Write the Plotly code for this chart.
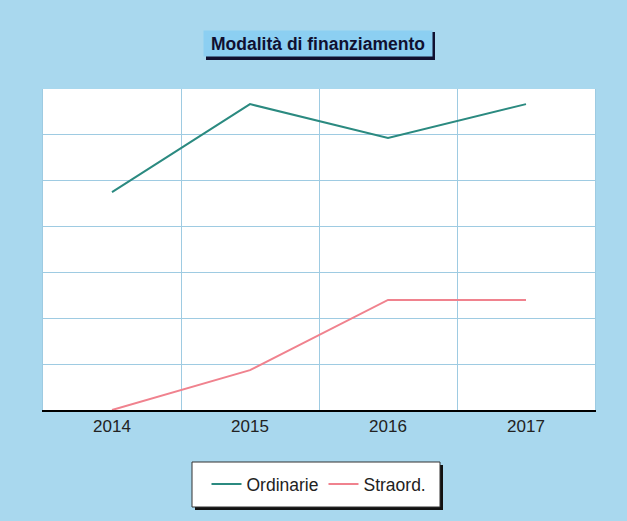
import plotly.graph_objects as go

years = ["2014", "2015", "2016", "2017"]
ordinarie = [4.75, 6.67, 5.93, 6.67]
straord = [0.0, 0.87, 2.40, 2.40]

title_text = "Modalità di finanziamento"
bg = "#a9d8ee"
grid = "#9ecbe2"

fig = go.Figure()
fig.add_trace(go.Scatter(x=years, y=ordinarie, name="Ordinarie", mode="lines",
                         line=dict(color="#2b8a80", width=2)))
fig.add_trace(go.Scatter(x=years, y=straord, name="Straord.", mode="lines",
                         line=dict(color="#f0828e", width=2)))

W, H = 627, 521
L, R, T, B = 43, 32, 89, 111
pw, ph = W - L - R, H - T - B

def px(xp):
    return (xp - L) / pw

def py(yp):
    return (H - B - yp) / ph

fig.update_layout(
    width=W, height=H,
    margin=dict(l=L, r=R, t=T, b=B),
    paper_bgcolor=bg, plot_bgcolor="white",
    font=dict(family="Liberation Sans, Arial, sans-serif", size=17, color="#222"),
    showlegend=True,
    legend=dict(orientation="h", x=0.5, xanchor="center", y=py(484), yanchor="middle",
                bgcolor="rgba(0,0,0,0)", font=dict(size=17.5, color="#222"),
                itemwidth=30),
    xaxis=dict(type="category", tickson="boundaries", showgrid=True, gridcolor=grid,
               gridwidth=1, showline=True, linecolor="black", linewidth=2, ticks="",
               tickfont=dict(size=17, color="#222"), range=[-0.5, 3.5], fixedrange=True),
    yaxis=dict(range=[0, 7], dtick=1, showgrid=True, gridcolor=grid, gridwidth=1,
               showticklabels=False, zeroline=False, showline=True, linecolor=grid,
               mirror=True, ticks="", fixedrange=True),
)

# title box shadow
fig.add_shape(type="rect", xref="paper", yref="paper", x0=px(206), x1=px(435),
              y0=py(32), y1=py(60), fillcolor="#101030", line=dict(width=0), layer="below")
fig.add_annotation(text="<b>" + title_text + "</b>", xref="paper", yref="paper",
                   x=px(318), y=py(43.5), xanchor="center", yanchor="middle", showarrow=False,
                   width=226, height=23, borderpad=1, bgcolor="#8ccff2",
                   font=dict(size=17.5, color="#101030"))

# legend box with shadow
fig.add_shape(type="rect", xref="paper", yref="paper", x0=px(195), x1=px(443),
              y0=py(465), y1=py(510), fillcolor="#111", line=dict(width=0), layer="below")
fig.add_shape(type="rect", xref="paper", yref="paper", x0=px(192), x1=px(440),
              y0=py(462), y1=py(507), fillcolor="white",
              line=dict(color="#333", width=1), layer="below")

fig.write_html("out.html", config={"displayModeBar": False},
               post_script="document.body.style.margin='0';")
